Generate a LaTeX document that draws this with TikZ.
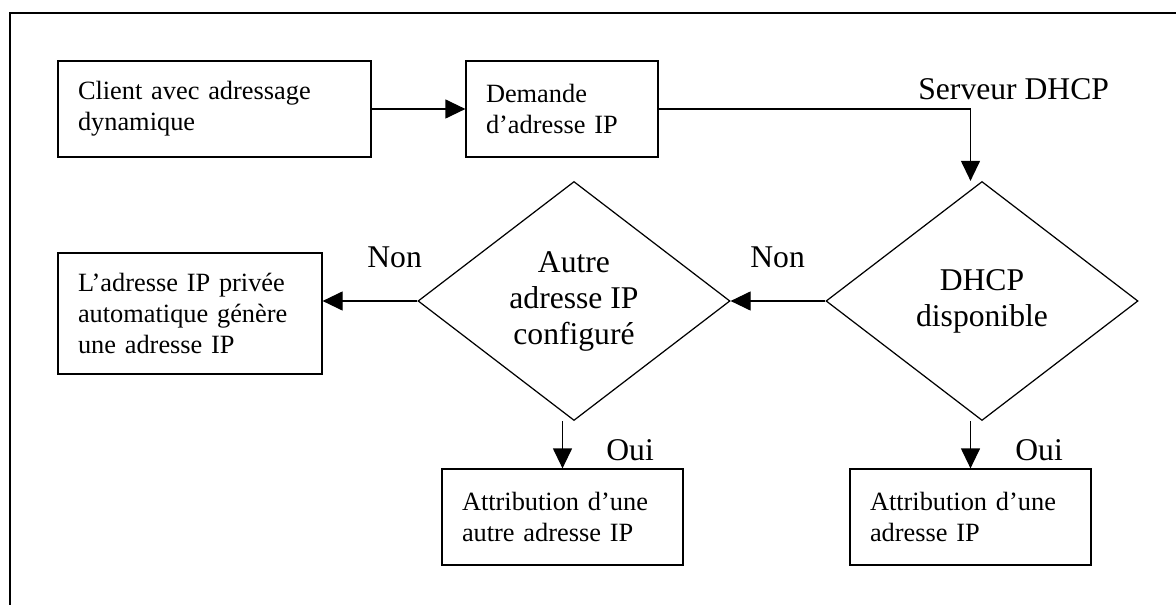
\documentclass[tikz,border=0pt]{standalone}
\usepackage{fontspec}
\setmainfont{Liberation Serif}
\usepackage{xcolor}
\usepackage{tikz}
\usetikzlibrary{arrows.meta, positioning, shapes.geometric}
\definecolor{lineColor}{HTML}{000000}
\tikzset{
    stepbox/.style={rectangle, draw=lineColor, line width=0.7pt, inner xsep=0.4cm, inner ysep=0.1cm, align=left, font=\fontsize{15}{17.6}\selectfont},
    choice/.style={diamond, draw=lineColor, line width=0.7pt, inner sep=0pt, minimum width=6.24cm, minimum height=4.78cm, align=center, font=\fontsize{18}{20.5}\selectfont},
    answer/.style={anchor=base west, inner sep=0pt, font=\fontsize{18}{20.5}\selectfont},
    flow/.style={draw=lineColor, line width=0.7pt, -{Triangle[length=0.4cm, width=0.38cm]}}
}

\begin{document}
\begin{tikzpicture}
        \useasboundingbox (0,0) rectangle (23.52,-12.1);
        % cadre
        \draw[line width=1pt] (0.2,-12.2) |- (23.7,-0.26);

        \node[stepbox, text width=5.46cm, minimum height=1.92cm] (client) at (4.29,-2.18) {Client avec adressage \\ dynamique};
        \node[stepbox, text width=3.04cm, minimum height=1.92cm] (demande) at (11.24,-2.18) {Demande \\ d’adresse IP};
        \node[choice] (dhcp) at (19.64,-6.02) {DHCP \\ disponible};
        \node[choice] (autre) at (11.48,-6.02) {Autre \\ adresse IP \\ configuré};
        \node[stepbox, text width=4.48cm, minimum height=2.42cm] (privee) at (3.8,-6.27) {L’adresse IP privée \\ automatique génère \\ une adresse IP};
        \node[stepbox, text width=4.02cm, minimum height=1.92cm] (autreok) at (11.25,-10.34) {Attribution d’une \\ autre adresse IP};
        \node[stepbox, text width=4.02cm, minimum height=1.92cm] (dhcpok) at (19.41,-10.34) {Attribution d’une \\ adresse IP};

        \node[answer] (serveur) at (18.36,-2.0) {Serveur DHCP};
        \node[answer] (nonautre) at (7.34,-5.36) {Non};
        \node[answer] (nondhcp) at (15.0,-5.36) {Non};
        \node[answer] (ouiautre) at (12.12,-9.2) {Oui};
        \node[answer] (ouidhcp) at (20.3,-9.2) {Oui};

        \coordinate (coin) at (demande.east -| dhcpok.north);
        \draw[flow] (client.east) -- (demande.west);
        \draw[flow] (demande.east) -- (coin) -- (dhcp.north -| dhcpok.north);
        \draw[flow] (dhcp.west) -- (autre.east);
        \draw[flow] (autre.west) -- (autre.west -| privee.east);
        \draw[flow] (autre.south -| autreok.north) -- (autreok.north);
        \draw[flow] (dhcp.south -| dhcpok.north) -- (dhcpok.north);
    \end{tikzpicture}
\end{document}
